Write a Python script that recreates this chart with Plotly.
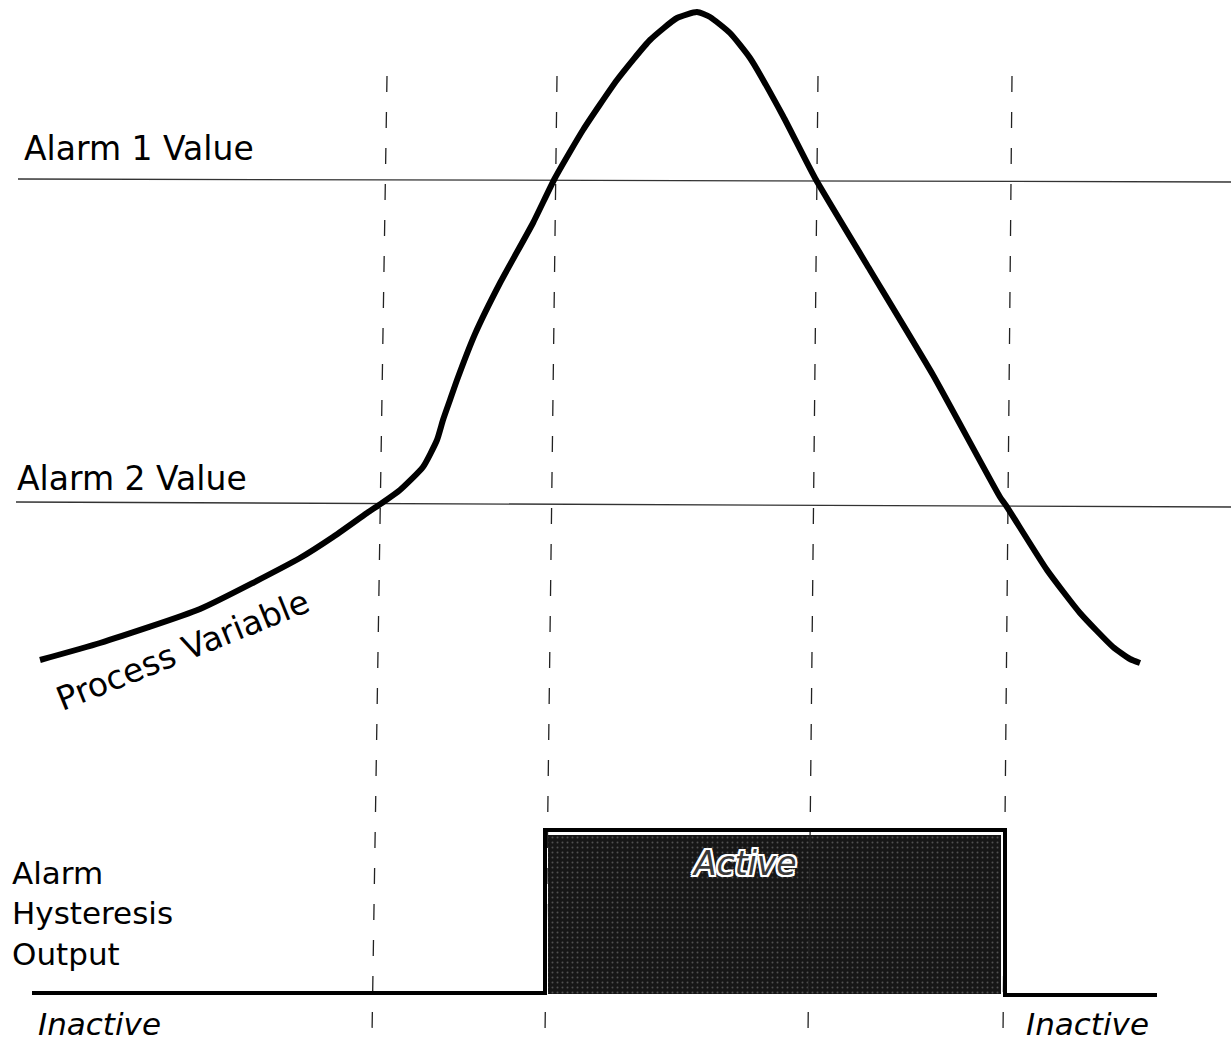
import plotly.graph_objects as go

# ---- data (diagram units: x to the right, y downward, image-like scale) ----
curve_x = [40, 100, 200, 300, 333, 367, 382, 400, 423, 437, 443, 450, 457, 475, 500, 533, 555, 583,
           617, 650, 677, 697, 710, 730, 750, 783, 815, 867, 933, 1000, 1007, 1047, 1080, 1113, 1130, 1140]
curve_y = [660, 643, 609, 558, 537, 513, 503, 490, 467, 440, 420, 400, 380, 334, 283, 223, 178, 130,
           80, 40, 18, 12, 17, 33, 58, 116, 178, 265, 375, 497, 507, 570, 613, 647, 659, 663]

alarm1_x = [18, 1231]
alarm1_y = [179, 182]
alarm2_x = [16, 1231]
alarm2_y = [502, 507]

# vertical guide lines: (top x, bottom x)
guide_top_x = [387, 557, 818, 1012]
guide_bot_x = [372, 545, 808, 1003]
guide_top_y = 76
guide_bot_y = 1035

out_x = [32, 545, 545, 1005, 1005, 1157]
out_y = [993, 993, 830, 830, 995, 995]

box_x = [548, 1001, 1001, 548, 548]
box_y = [835, 835, 994, 994, 835]

FONT = "DejaVu Sans, Liberation Sans, Arial, sans-serif"

fig = go.Figure()

# alarm levels
fig.add_trace(go.Scatter(x=alarm1_x, y=alarm1_y, mode="lines",
                         line=dict(color="#333", width=1.3), hoverinfo="skip"))
fig.add_trace(go.Scatter(x=alarm2_x, y=alarm2_y, mode="lines",
                         line=dict(color="#333", width=1.3), hoverinfo="skip"))

# active region fill
fig.add_trace(go.Scatter(x=box_x, y=box_y, mode="lines", fill="toself",
                         fillcolor="#1a1a1a",
                         fillpattern=dict(shape=".", bgcolor="#161616", fgcolor="#8a8a8a",
                                          size=5, solidity=0.12),
                         line=dict(width=0), hoverinfo="skip"))

# vertical dashed guides
for tx, bx in zip(guide_top_x, guide_bot_x):
    fig.add_trace(go.Scatter(x=[tx, bx], y=[guide_top_y, guide_bot_y], mode="lines",
                             line=dict(color="#222", width=1.3, dash="16px,20px"),
                             hoverinfo="skip"))

# process variable curve
fig.add_trace(go.Scatter(x=curve_x, y=curve_y, mode="lines",
                         line=dict(color="black", width=6, shape="spline", smoothing=0.5),
                         hoverinfo="skip"))

# output step
fig.add_trace(go.Scatter(x=out_x, y=out_y, mode="lines",
                         line=dict(color="black", width=4), hoverinfo="skip"))

def txt(x, y, s, size=33, xanchor="left", italic=False, angle=0, color="black", shadow=None):
    font = dict(family=FONT, size=size, color=color)
    if italic:
        font["style"] = "italic"
    if shadow:
        font["shadow"] = shadow
    fig.add_annotation(x=x, y=y, text=s, showarrow=False, xanchor=xanchor, yanchor="middle",
                       textangle=angle, font=font, align="left")

txt(22, 148, "Alarm 1 Value", size=33)
txt(15, 478, "Alarm 2 Value", size=33)
txt(10, 913, "Alarm<br>Hysteresis<br>Output", size=31)
txt(36, 1024, "Inactive", size=31, italic=True)
txt(1024, 1024, "Inactive", size=31, italic=True)
txt(182, 650, "Process Variable", size=33, xanchor="center", angle=-22)
txt(744, 863, "Active", size=33, xanchor="center", italic=True, color="#3a3a3a",
    shadow="2px 0 0 #fff, -2px 0 0 #fff, 0 2px 0 #fff, 0 -2px 0 #fff, 2px 2px 0 #fff, -2px -2px 0 #fff, 2px -2px 0 #fff, -2px 2px 0 #fff")

fig.update_layout(
    width=1231, height=1044,
    margin=dict(l=0, r=0, t=0, b=0),
    paper_bgcolor="white", plot_bgcolor="white",
    showlegend=False,
    xaxis=dict(range=[0, 1231], visible=False, fixedrange=True),
    yaxis=dict(range=[1044, 0], visible=False, fixedrange=True),
)

fig.write_html("out.html", config={"displayModeBar": False},
               post_script="document.body.style.margin='0';document.body.style.overflow='hidden';")
